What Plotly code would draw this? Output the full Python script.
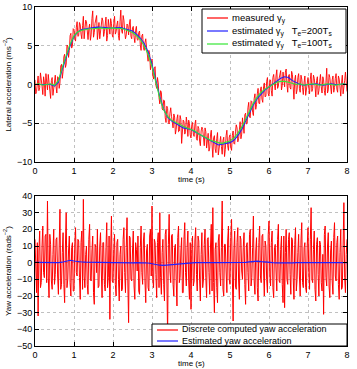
import numpy as np
import plotly.graph_objects as go

# ---------------- data ----------------
dt_meas = 0.02   # sampling step of the noisy (measured / computed) series (s)
dt_est = 0.1     # sampling step of the estimated series (s)

# measured lateral acceleration, samples at t = 0, 0.04, 0.08, ... 8.00
lat_measured_a = [
    0.6, -0.9, 1.1, -0.4, 0.8, -1.3, 0.3, 1.4, -0.7, 0.2, -1.8, 0.9, -0.5, 1.2, -1.1, 0.9, 0.2, 2.6, 1.7, 3.9, 2.6, 5.0, 4.4, 6.6, 5.0,
    7.1, 5.6, 8.1, 6.3, 7.7, 5.9, 8.8, 6.8, 8.1, 5.8, 7.8, 6.4, 9.5, 6.7, 8.3, 5.8, 8.0, 7.0, 8.6, 6.2, 7.7, 5.6, 8.4, 6.5, 7.9,
    6.1, 8.8, 6.8, 8.2, 5.7, 9.6, 6.6, 8.3, 5.9, 7.8, 6.4, 8.4, 5.9, 7.5, 5.4, 7.5, 5.7, 6.9, 4.4, 6.5, 4.4, 5.9, 3.3, 4.4, 1.9,
    3.3, 0.7, 2.3, -0.5, 0.2, -2.5, -1.0, -3.3, -2.1, -4.9, -3.1, -5.1, -3.0, -5.3, -3.8, -6.4, -4.4, -6.1, -4.0, -7.6, -4.6, -6.4, -4.2, -6.7, -5.0,
    -6.9, -4.9, -6.7, -4.6, -7.2, -5.7, -7.9, -5.5, -7.5, -5.6, -8.2, -6.3, -8.2, -5.9, -9.4, -6.6, -8.8, -6.2, -8.3, -6.7, -9.0, -6.8, -8.4, -5.9, -8.5,
    -6.5, -8.5, -6.0, -7.7, -5.2, -7.4, -5.4, -7.0, -4.3, -6.3, -3.7, -5.0, -2.3, -4.3, -2.2, -4.0, -1.2, -2.6, -0.5, -2.5, -0.3, -2.3, 0.2, -1.5, 0.9,
    -1.5, 0.6, -1.5, 1.3, -0.7, 1.9, -0.2, 1.5, -0.7, 1.6, -0.3, 2.0, -1.0, 1.3, -0.6, 1.3, -1.9, 1.2, -0.7, 1.4, -1.0, 0.7, -1.3, 1.1, -0.6,
    0.9, -1.2, 1.5, -0.5, 0.8, -1.6, 1.0, -0.8, 1.3, -1.1, 0.6, -1.4, 2.1, -0.7, 0.9, -1.2, 1.1, -0.4, 1.4, -1.0, 0.7, -1.5, 1.2, -0.6, 1.6, -0.9,
]
# measured lateral acceleration, samples at t = 0.02, 0.06, ... 7.98
lat_measured_b = [
    -1.2, 0.4, -0.8, 1.5, -0.2, 1.0, -1.5, 0.1, 1.3, -0.9, 0.5, -1.4, 0.7, -0.3, 1.0, -0.5, 2.4, 0.8, 3.6, 2.2, 5.1, 3.5, 6.3, 4.7, 7.2,
    6.0, 7.4, 6.2, 8.0, 6.5, 7.6, 5.9, 8.3, 6.9, 7.2, 5.7, 8.5, 6.1, 7.9, 8.9, 6.6, 5.9, 7.4, 8.2, 6.8, 8.7, 6.3, 7.1, 8.5, 6.4,
    7.9, 6.5, 7.7, 6.3, 8.1, 7.0, 8.9, 6.9, 6.4, 7.6, 7.8, 6.2, 7.3, 6.1, 7.0, 5.8, 6.7, 5.1, 6.3, 4.8, 5.4, 4.8, 3.0, 3.9, 3.2,
    1.2, 2.1, -0.1, 0.9, -1.7, -0.8, -3.1, -2.0, -4.3, -2.8, -4.9, -3.7, -4.1, -5.6, -4.2, -5.8, -3.9, -6.0, -4.5, -6.3, -4.8, -6.1, -5.0, -4.6, -6.5,
    -5.2, -6.4, -5.1, -7.0, -5.4, -7.3, -6.0, -5.8, -7.9, -6.1, -7.4, -8.6, -6.5, -7.8, -6.9, -8.3, -7.0, -9.1, -6.9, -8.0, -7.2, -9.3, -6.6, -7.9, -6.8,
    -8.1, -6.6, -7.6, -6.1, -5.6, -7.0, -4.8, -6.4, -5.3, -3.9, -5.1, -3.0, -4.2, -2.1, -3.6, -1.8, -3.2, -1.2, -2.4, -0.7, -1.9, -0.3, -1.6, 0.4, -1.2,
    0.5, -0.8, 0.9, 0.1, 1.1, -0.5, 0.8, 1.8, -0.1, 0.4, 1.6, 0.0, 1.1, -0.4, 1.7, -0.3, 0.6, -1.2, 0.9, -0.5, 1.2, -0.4, 0.3, -1.4, 0.6,
    -0.4, 0.7, -0.9, 1.2, -0.2, 0.5, -1.3, 0.4, -0.3, 1.0, -0.8, 0.3, -1.1, 1.3, -0.2, 0.6, -1.0, 0.8, -0.6, 1.1, -0.3, 0.2, -1.2, 0.5, 0.0,
]

lat_est_200 = [
    0.0, 0.0, 0.0, 0.0, 0.0, -0.2, 0.3, 2.0, 3.6, 5.0,
    6.2, 6.8, 7.1, 7.2, 7.3, 7.35, 7.4, 7.4, 7.35, 7.3,
    7.3, 7.3, 7.35, 7.2, 7.0, 6.9, 6.5, 6.0, 5.3, 4.2,
    2.6, 0.6, -1.6, -3.2, -4.2, -4.7, -5.0, -5.3, -5.6, -5.7,
    -5.8, -6.1, -6.4, -6.7, -7.0, -7.3, -7.6, -7.8, -7.7, -7.6,
    -7.5, -7.2, -6.6, -5.8, -4.7, -3.6, -2.6, -1.8, -1.2, -0.7,
    -0.3, 0.1, 0.5, 0.8, 1.0, 0.9, 0.5, 0.2, 0.0, -0.1,
    0.0, 0.0, 0.1, 0.0, -0.1, 0.0, 0.1, 0.0, 0.0, 0.1, 0.0,
]

lat_est_100 = [
    0.0, 0.1, -0.1, 0.0, 0.1, -0.1, 0.5, 2.2, 3.8, 5.2,
    6.3, 6.8, 7.0, 7.1, 7.2, 7.2, 7.25, 7.3, 7.2, 7.25,
    7.3, 7.2, 7.25, 7.1, 6.9, 6.7, 6.3, 5.8, 5.0, 3.9,
    2.3, 0.3, -1.8, -3.3, -4.1, -4.6, -4.9, -5.2, -5.4, -5.6,
    -5.8, -6.0, -6.4, -6.6, -6.9, -7.2, -7.4, -7.5, -7.6, -7.4,
    -7.3, -6.9, -6.3, -5.5, -4.4, -3.3, -2.4, -1.6, -1.0, -0.6,
    -0.3, 0.0, 0.3, 0.4, 0.4, 0.3, 0.1, 0.0, 0.1, -0.1,
    0.0, 0.1, 0.0, -0.1, 0.0, 0.1, 0.0, -0.1, 0.0, 0.1, 0.0,
]

# discrete computed yaw acceleration, samples at t = 0, 0.04, ... 8.00
yaw_computed_a = [
    14, -18, -32, 19, -12, 22, -9, 17, 37, -21, 11, -16, 20, -7, 15, -19, 32, -13, 18, -24, 30, -10, 16, -20, 12,
    -17, 21, -8, 13, -22, 19, 38, -15, 10, -19, 23, -11, 16, -25, 9, 20, -14, 18, -21, 12, -17, 24, -9, -34, 28,
    -12, 17, -20, 14, -23, 10, -16, 21, -18, 27, -36, 15, -11, 19, -22, 8, 16, -19, 22, -13, 18, -24, 11, -17, 20,
    34, -15, 12, -21, 18, 30, -19, 14, -23, 20, -44, 29, -12, 17, -20, 11, -26, 22, -9, 15, -18, 24, -14, 19, -22,
    -28, 16, -11, 21, -17, 13, -23, 18, -10, 20, -21, 15, -19, 23, 33, -30, 12, -24, 17, -14, 37, -20, 11, -18, 22,
    -13, 26, -35, 19, -16, 21, -22, 14, -10, 18, -25, 12, -17, 20, -9, 28, -19, 15, -23, 22, -12, 17, -20, 10, -18,
    25, -14, 19, -21, 11, -17, 23, -12, 16, -24, -27, 20, -13, 18, -19, 14, -22, 21, -10, 17, -20, 24, -15, 12, -18,
    21, -16, 33, -12, 19, -23, 15, -20, 11, -17, -31, 22, -14, 18, -21, 13, -19, 24, -11, 16, -22, 20, -15, 36, -18, 14,
]
# discrete computed yaw acceleration, samples at t = 0.02, 0.06, ... 7.98
yaw_computed_b = [
    -9, 12, 7, -15, 10, -6, 16, -12, -8, 17, -11, 5, -13, 14, -8, 10, -16, 6, -13, 10, -15, 7, -12, 9, -17,
    11, -6, 14, -9, 12, -16, -8, 5, -13, 14, -10, 7, -18, 11, -6, -15, 10, -5, 12, -13, 9, -15, 16, 7, -11,
    8, -13, 12, -10, 5, -17, 14, -6, 9, -11, 16, -10, 7, -14, 12, -5, -17, 9, -6, 13, -11, 7, -15, 16, -8,
    -10, 14, -7, 12, -15, -9, 6, -13, 17, -8, 11, -5, 16, -13, 9, -10, 15, -12, 7, -18, 14, -6, 9, -11, 12,
    8, -14, 13, -7, 16, -10, 5, -15, 11, -9, 14, -6, 10, -17, -12, 8, -15, 13, -6, 9, -16, 11, -5, 13, -10,
    15, -8, 7, -14, 12, -11, 16, -5, 9, -13, 10, -6, 17, -14, 9, -11, 7, -15, 12, -8, 16, -5, 13, -10, 17,
    -7, 12, -15, 9, -5, 14, -11, 8, -13, 16, 6, -10, 14, -7, 15, -9, 11, -17, 6, -8, 13, -12, 9, -15, 10,
    -6, 14, -10, 8, -16, 11, -7, 13, -12, 5, 17, -9, 10, -14, 7, -11, 15, -8, 12, -13, 6, -16, 10, -9, 5,
]

yaw_estimated = [
    0.2, 0.1, 0.2, 0.1, 0.2, 0.1, 0.0, 0.3, 1.0, 1.4,
    1.0, 0.6, 0.4, 0.3, 0.2, 0.2, 0.1, 0.0, 0.0, -0.1,
    0.0, 0.0, -0.1, 0.0, 0.0, -0.1, 0.0, 0.0, 0.0, -0.2,
    -0.6, -1.1, -1.5, -1.6, -1.4, -1.0, -0.6, -0.4, -0.3, -0.2,
    -0.1, 0.0, 0.0, 0.1, 0.0, 0.0, 0.1, 0.0, 0.0, 0.0,
    0.0, 0.0, 0.0, 0.0, 0.2, 0.5, 0.8, 0.9, 0.6, 0.3,
    0.1, 0.0, -0.1, -0.2, -0.2, -0.2, -0.1, 0.0, 0.0, 0.0,
    0.0, 0.1, 0.0, 0.0, -0.1, 0.0, 0.0, 0.1, 0.0, 0.0, 0.0,
]

legend_top = [
    ("measured γ<sub>y</sub>", "#ff0000"),
    ("estimated γ<sub>y</sub>\u00a0\u00a0 T<sub>e</sub>=200T<sub>s</sub>", "#2020ff"),
    ("estimated γ<sub>y</sub>\u00a0\u00a0 T<sub>e</sub>=100T<sub>s</sub>", "#33e633"),
]
legend_bottom = [
    ("Discrete computed yaw acceleration", "#ff0000"),
    ("Estimated yaw acceleration", "#2020ff"),
]


def interleave(a, b):
    out = np.empty(len(a) + len(b))
    out[0::2] = a
    out[1::2] = b
    return out


lat_measured = interleave(lat_measured_a, lat_measured_b)
yaw_computed = interleave(yaw_computed_a, yaw_computed_b)
t_meas = np.arange(len(lat_measured)) * dt_meas
t_yaw = np.arange(len(yaw_computed)) * dt_meas
t_est = np.arange(len(lat_est_200)) * dt_est
t_yaw_est = np.arange(len(yaw_estimated)) * dt_est

RED = legend_top[0][1]
BLUE = legend_top[1][1]
GREEN = legend_top[2][1]

fig = go.Figure()
fig.add_trace(go.Scatter(x=t_meas, y=lat_measured, mode="lines", line=dict(color=RED, width=0.9),
                         xaxis="x", yaxis="y", showlegend=False))
fig.add_trace(go.Scatter(x=t_est, y=lat_est_200, mode="lines", line=dict(color=BLUE, width=1.1),
                         xaxis="x", yaxis="y", showlegend=False))
fig.add_trace(go.Scatter(x=t_est, y=lat_est_100, mode="lines", line=dict(color=GREEN, width=1.1),
                         xaxis="x", yaxis="y", showlegend=False))
fig.add_trace(go.Scatter(x=t_yaw, y=yaw_computed, mode="lines", line=dict(color=RED, width=1.0),
                         xaxis="x2", yaxis="y2", showlegend=False))
fig.add_trace(go.Scatter(x=t_yaw_est, y=yaw_estimated, mode="lines", line=dict(color=BLUE, width=1.1),
                         xaxis="x2", yaxis="y2", showlegend=False))

FONT = "Liberation Sans, Arial, sans-serif"
W, H = 357, 369
ML, MR, MT, MB = 35, 10, 7, 23
PW, PH = W - ML - MR, H - MT - MB


def px_x(px):
    return (px - ML) / PW


def px_y(py):
    return (H - MB - py) / PH


axis_common = dict(
    showline=True, linecolor="black", linewidth=1, mirror="ticks",
    ticks="inside", ticklen=4, tickcolor="black",
    showgrid=True, gridcolor="#c0c0c0", griddash="dot", gridwidth=1,
    zeroline=False, tickfont=dict(size=9, color="black", family=FONT),
)

shapes = []
annotations = []


def add_box(box):
    x0, y0, x1, y1 = box
    shapes.append(dict(type="rect", xref="paper", yref="paper", layer="above",
                       x0=px_x(x0), x1=px_x(x1), y0=px_y(y0), y1=px_y(y1),
                       fillcolor="white", line=dict(color="black", width=1)))


def add_keys(entries, row_y, x_line):
    for (_, color), yy in zip(entries, row_y):
        shapes.append(dict(type="line", xref="paper", yref="paper", layer="above",
                           x0=px_x(x_line[0]), x1=px_x(x_line[1]), y0=px_y(yy), y1=px_y(yy),
                           line=dict(color=color, width=1.2)))


# top legend: one text per row
add_box((202, 9, 346, 53))
top_rows = (18, 31, 44)
add_keys(legend_top, top_rows, (207, 228))
for (label, _), yy in zip(legend_top, top_rows):
    annotations.append(dict(text=label, xref="paper", yref="paper", x=px_x(230), y=px_y(yy),
                            xanchor="left", yanchor="middle", showarrow=False,
                            font=dict(size=9.5, family=FONT, color="black")))

# bottom legend: rows are tight, so one two-line text block
add_box((152, 324, 347, 346))
bottom_rows = (330, 341)
add_keys(legend_bottom, bottom_rows, (157, 178))
annotations.append(dict(text="<br>".join(lbl for lbl, _ in legend_bottom), xref="paper", yref="paper",
                        x=px_x(180), y=px_y(335.4), xanchor="left", yanchor="middle", align="left",
                        showarrow=False, font=dict(size=9, family=FONT, color="black")))

# x-axis titles
annotations.append(dict(text="time (s)", xref="paper", yref="paper", x=0.5, y=px_y(174),
                        xanchor="center", yanchor="top", showarrow=False, borderpad=0,
                        font=dict(size=8, family=FONT, color="black")))
annotations.append(dict(text="time (s)", xref="paper", yref="paper", x=0.5, y=px_y(369),
                        xanchor="center", yanchor="bottom", showarrow=False, borderpad=0,
                        font=dict(size=8, family=FONT, color="black")))

fig.update_layout(
    width=W, height=H,
    margin=dict(l=ML, r=MR, t=MT, b=MB, autoexpand=False),
    paper_bgcolor="white", plot_bgcolor="white",
    font=dict(family=FONT, color="black", size=9),
    showlegend=False,
    xaxis=dict(domain=[0, 1], anchor="y", range=[0, 8], dtick=1, **axis_common),
    yaxis=dict(domain=[px_y(162), 1.0], anchor="x", range=[-10, 10], dtick=5,
               title=dict(text="Lateral acceleration (ms<sup>−2</sup>)", font=dict(size=8), standoff=4),
               **axis_common),
    xaxis2=dict(domain=[0, 1], anchor="y2", range=[0, 8], dtick=1, **axis_common),
    yaxis2=dict(domain=[0, px_y(196)], anchor="x2", range=[-50, 40], dtick=10,
                title=dict(text="Yaw acceleration (rads<sup>−2</sup>)", font=dict(size=8), standoff=4),
                **axis_common),
    shapes=shapes,
    annotations=annotations,
)

fig.write_html("out.html")
